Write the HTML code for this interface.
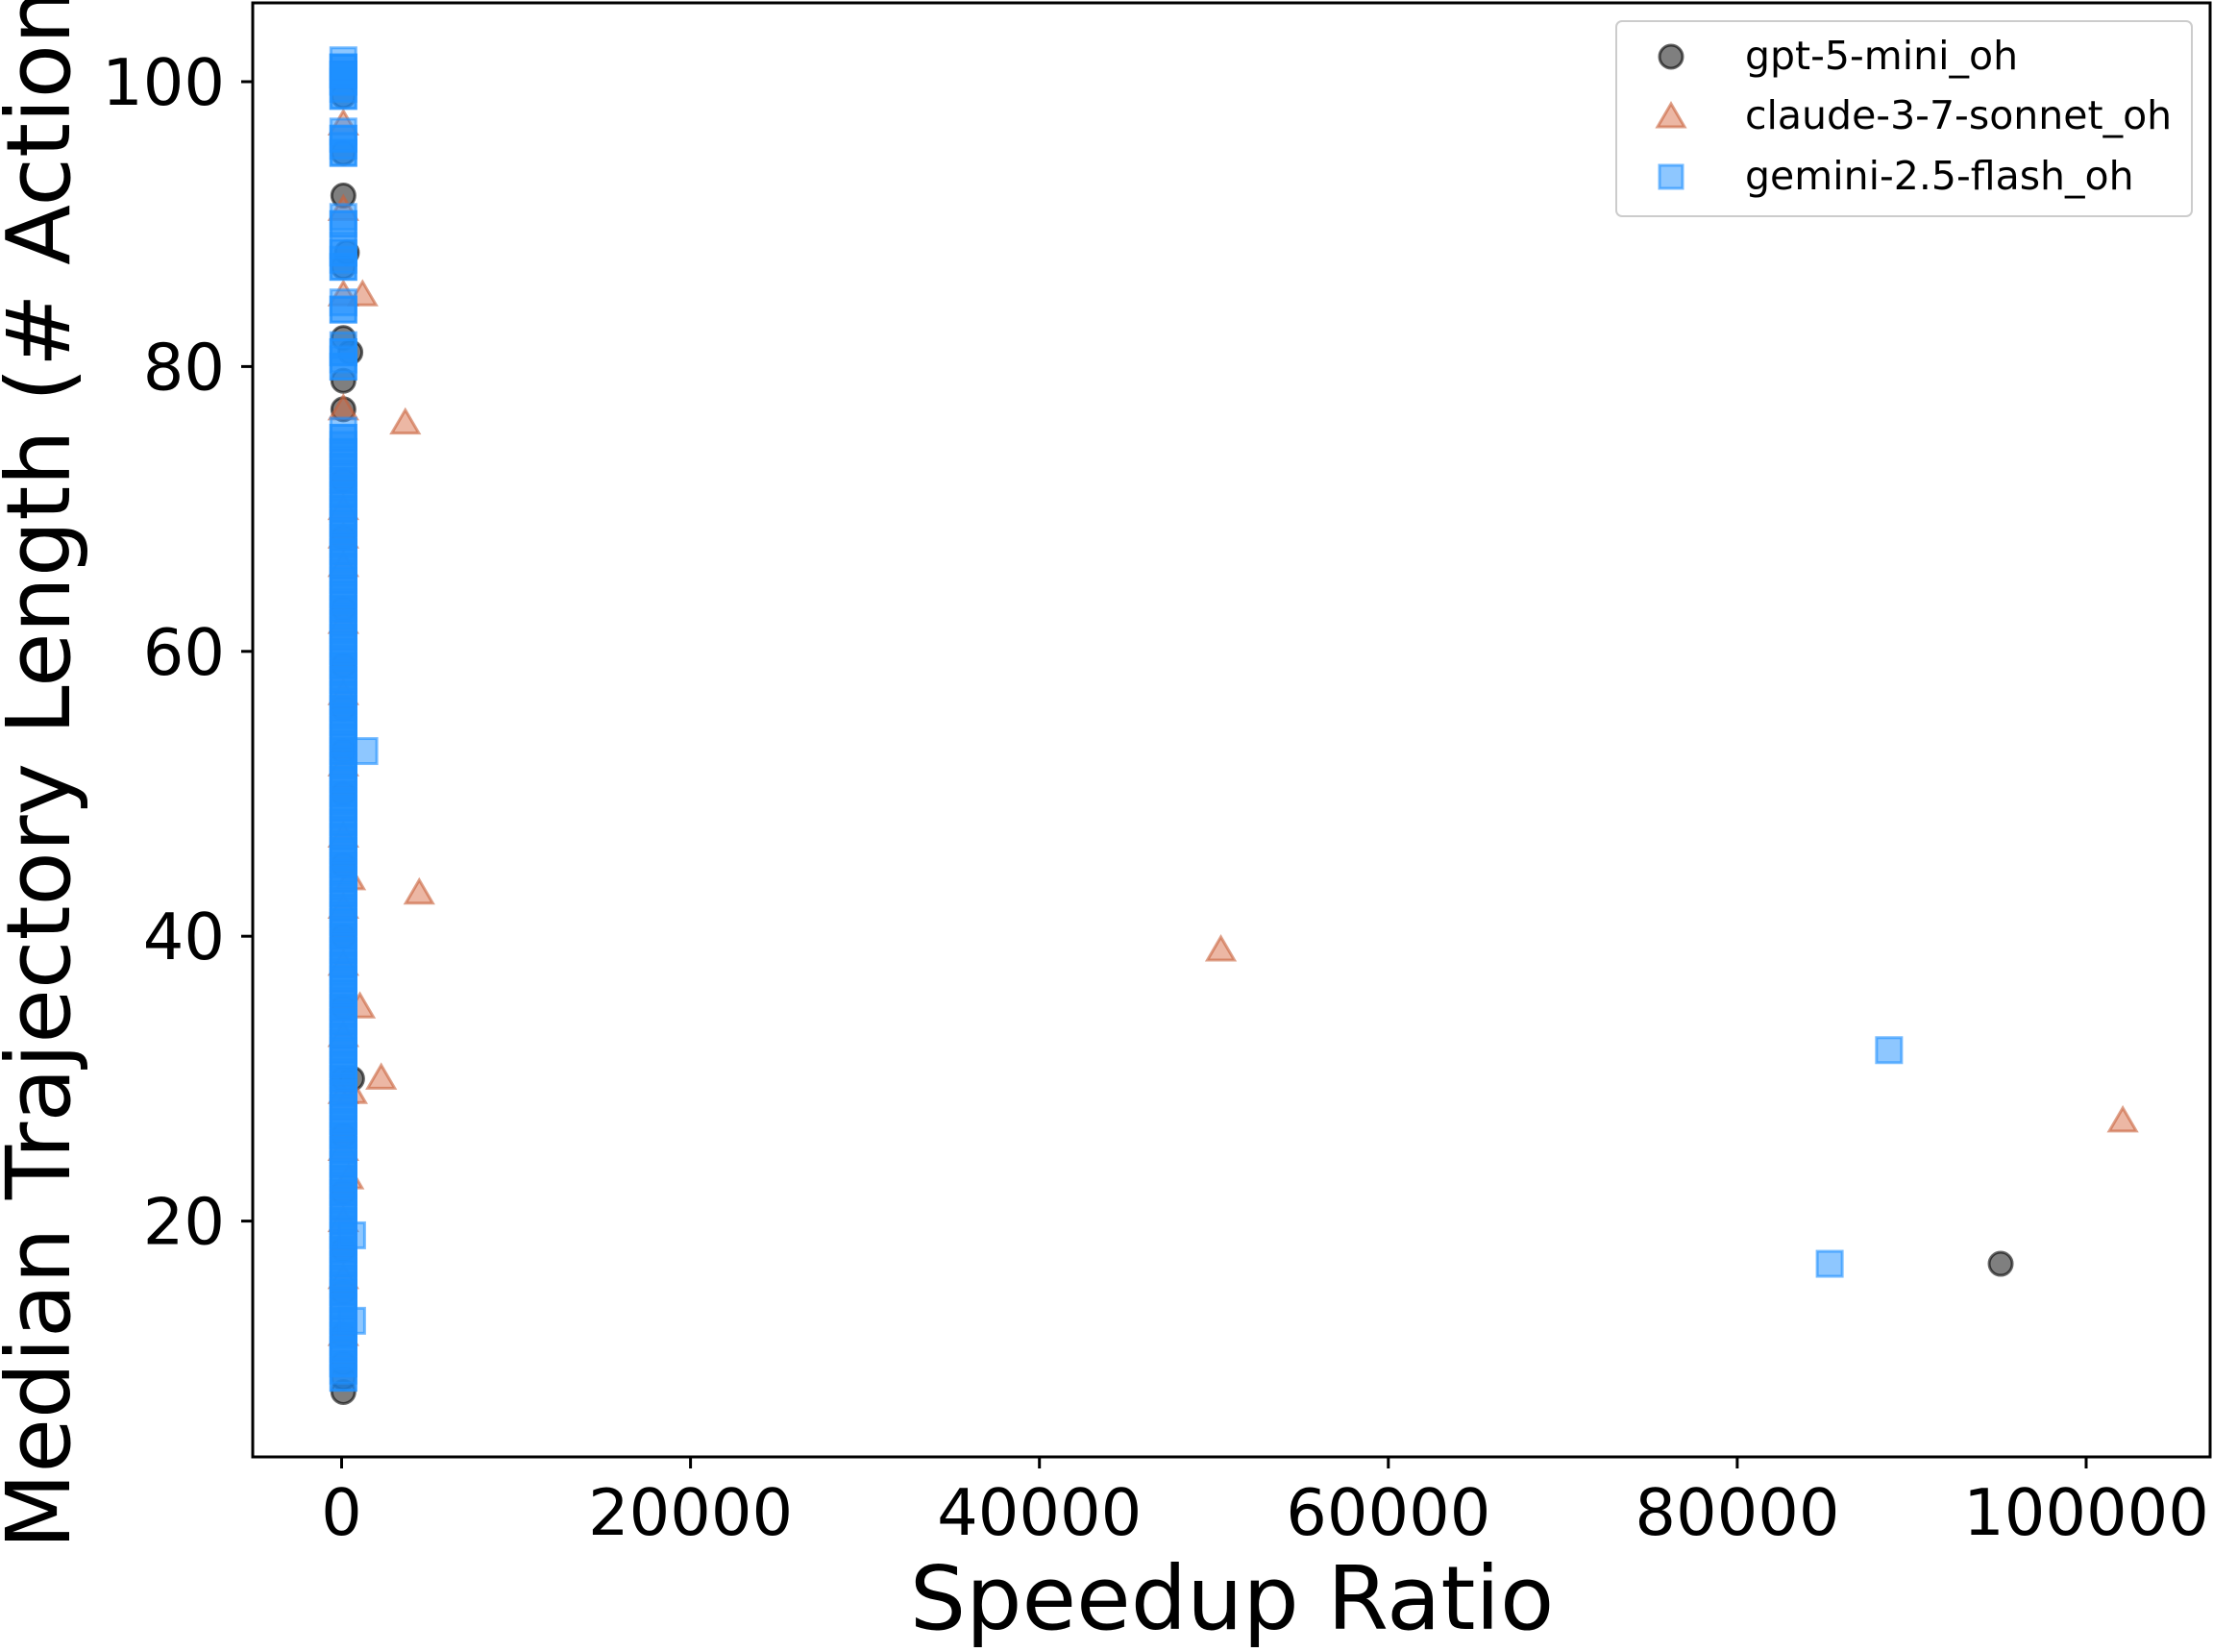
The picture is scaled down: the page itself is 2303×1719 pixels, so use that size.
<!DOCTYPE html>
<html><head><meta charset="utf-8"><style>
html,body{margin:0;padding:0;background:#fff;}
svg{display:block;font-family:"DejaVu Sans","Liberation Sans",sans-serif;}
</style></head><body>
<svg id="chart" width="2303" height="1719" viewBox="0 0 2303 1719">
<rect x="0" y="0" width="2303" height="1719" fill="#fff"/>
<g id="marks"></g>
<g id="axes"></g>
<text x="1282" y="1695" font-size="92" text-anchor="middle">Speedup Ratio</text>
<text transform="translate(72,758) rotate(-90)" font-size="92" text-anchor="middle">Median Trajectory Length (# Actions)</text>
<g>
<rect x="1682" y="22" width="599" height="203" rx="6" fill="#fff" fill-opacity="0.8" stroke="#ccc" stroke-width="2"/>
<g>
<circle cx="1739" cy="59" r="12" fill="#000" fill-opacity="0.5" stroke="#000" stroke-opacity="0.6" stroke-width="3"/>
<text x="1816" y="72" font-size="41">gpt-5-mini_oh</text></g>
<g>
<polygon points="1739,108 1753,132 1725,132" fill="#d9704a" fill-opacity="0.5" stroke="#c8603a" stroke-opacity="0.6" stroke-width="3"/>
<text x="1816" y="134" font-size="41">claude-3-7-sonnet_oh</text></g>
<g>
<rect x="1727" y="172" width="24" height="24" fill="#1e90ff" fill-opacity="0.5" stroke="#1e90ff" stroke-opacity="0.6" stroke-width="3"/>
<text x="1816" y="197" font-size="41">gemini-2.5-flash_oh</text></g>
</g>
</svg>
<script>
const xTicks=[0,20000,40000,60000,80000,100000];
const yTicks=[20,40,60,80,100];
const gptX=[100,100,100,100,100,100,100,100,100,100,100,100,100,100,100,100,100,100,100,100,100,100,100,100,100,100,300,500,600,95100];
const gptY=[8,9,10,12,15,18,22,26,30,35,40,45,50,53,56,59,63,68,72,77,79,82,87,92,95,99,88,81,30,17];
const claudeX=[100,100,100,100,100,100,100,100,100,100,100,100,100,100,100,100,100,100,100,1200,3650,4450,50400,1050,2270,102100,500,600,400];
const claudeY=[12,16,20,25,29,33,38,42,47,52,57,62,66,68,70,77,85,91,97,85,76,43,39,35,30,27,44,29,23];
const gemColY=[9,10,11,12,13,14,15,16,17,18,19,20,21,22,23,24,25,26,27,28,29,30,31,32,33,34,35,36,37,38,39,40,41,42,43,44,45,46,47,48,49,50,51,52,53,54,55,56,57,58,59,60,61,62,63,64,65,66,67,68,69,70,71,72,73,74,75,80,81,84,87,88,90,95,96,100,101,99,100.5];
const gemOutX=[1300,85300,88700,600,600];
const gemOutY=[53,17,32,13,19];
const L=263,R=2300,T=3,B=1516;
const X=v=>355.5+v*(2171-355.5)/100000;
const Y=v=>85+(100-v)*14.82;
const NS="http://www.w3.org/2000/svg";
const marks=document.getElementById('marks');
const axes=document.getElementById('axes');
function mk(tag,attrs,parent){const e=document.createElementNS(NS,tag);for(const k in attrs)e.setAttribute(k,attrs[k]);parent.appendChild(e);return e;}
gptX.forEach((v,i)=>{
 const c=mk('circle',{cx:X(v),cy:Y(gptY[i]),r:12,fill:'#000','fill-opacity':0.5,stroke:'#000','stroke-opacity':0.6,'stroke-width':3},marks);
 
 
});
claudeX.forEach((v,i)=>{
 const x=X(v),y=Y(claudeY[i]);
 const p=mk('polygon',{points:`${x},${y-14} ${x+14},${y+10} ${x-14},${y+10}`,fill:'#d9704a','fill-opacity':0.5,stroke:'#c8603a','stroke-opacity':0.6,'stroke-width':3},marks);
 
 
});
function gem(v,yv,op){
 const x=X(v),y=Y(yv);
 const r=mk('rect',{x:x-13,y:y-13,width:26,height:26,fill:'#1e90ff','fill-opacity':op,stroke:'#1e90ff','stroke-opacity':0.6,'stroke-width':3},marks);
 
 
}
gemColY.forEach(v=>{gem(100,v,0.5);gem(100,v+0.5,0.5);gem(100,v,0.5);});
gemOutX.forEach((v,i)=>gem(v,gemOutY[i],0.5));
const frame=mk('rect',{x:L,y:T,width:R-L,height:B-T,fill:'none',stroke:'#000','stroke-width':3},axes);


xTicks.forEach(t=>{
 const x=X(t);
 const l=mk('line',{x1:x,y1:B,x2:x,y2:B+12,stroke:'#000','stroke-width':3},axes);
 
 
 const tx=mk('text',{x:x,y:1597,'font-size':67,'text-anchor':'middle'},axes);
 tx.textContent=String(t);
 
 
});
yTicks.forEach(t=>{
 const y=Y(t);
 const l=mk('line',{x1:L-12,y1:y,x2:L,y2:y,stroke:'#000','stroke-width':3},axes);
 
 
 const tx=mk('text',{x:234,y:y+24,'font-size':67,'text-anchor':'end'},axes);
 tx.textContent=String(t);
 
 
});
</script>
</body></html>
